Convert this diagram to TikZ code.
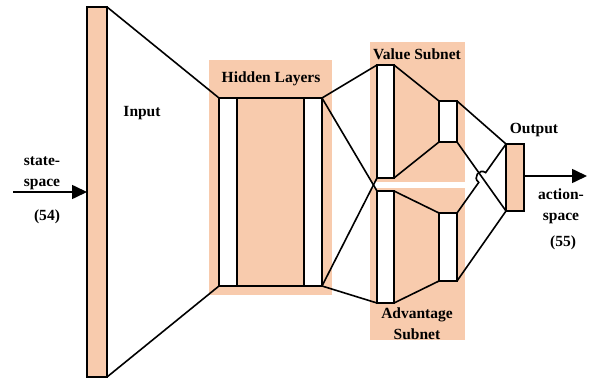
\documentclass[tikz,border=0pt]{standalone}
\usepackage{fontspec}
\setmainfont{Liberation Serif}
\usetikzlibrary{arrows.meta,calc,intersections}
\definecolor{peach}{HTML}{F8CBAD}
\begin{document}
\begin{tikzpicture}[x=1pt,y=-1pt,
  bar/.style={draw,line width=1.6pt,rectangle,inner sep=0pt,outer sep=0pt,fill=white},
  obar/.style={bar,fill=peach},
  conn/.style={line width=1.6pt},
  lab/.style={font=\fontsize{15.5}{21}\selectfont\bfseries,inner sep=0pt,align=center},
  bg/.style={fill=peach,draw=none},
  arr/.style={line width=1.6pt,-{Triangle[length=15pt,width=14pt]}}]
\useasboundingbox (0,0) rectangle (599,382);
% backgrounds
\fill[bg] (209,60) rectangle (332,295);
\fill[bg] (370,42) rectangle (465,182);
\fill[bg] (370,188) rectangle (465,340);
% bars
\node[obar,minimum width=20pt,minimum height=370pt] (in) at (97,192) {};
\node[bar,minimum width=18pt,minimum height=188pt] (h1) at (228,192) {};
\node[bar,minimum width=18pt,minimum height=188pt] (h2) at (313,192) {};
\node[bar,minimum width=17pt,minimum height=113pt] (v1) at (385.5,121.5) {};
\node[bar,minimum width=17pt,minimum height=112pt] (a1) at (385.5,247) {};
\node[bar,minimum width=18pt,minimum height=41pt] (v2) at (448,121.5) {};
\node[bar,minimum width=18pt,minimum height=68pt] (a2) at (448,247) {};
\node[obar,minimum width=18pt,minimum height=67pt] (out) at (515,177.5) {};
% connectors
\draw[conn] (in.north east) -- (h1.north west);
\draw[conn] (in.south east) -- (h1.south west);
\draw[conn] (h1.north east) -- (h2.north west);
\draw[conn] (h1.south east) -- (h2.south west);
\draw[conn] (h2.north east) -- (v1.north west);
\draw[conn] (h2.north east) -- (a1.north west);
\draw[conn] (h2.south east) -- (v1.south west);
\draw[conn] (h2.south east) -- (a1.south west);
\draw[conn] (v1.north east) -- (v2.north west);
\draw[conn] (v1.south east) -- (v2.south west);
\draw[conn] (a1.north east) -- (a2.north west);
\draw[conn] (a1.south east) -- (a2.south west);
\draw[conn] (v2.north east) -- (out.north west);
\draw[conn,name path=down] (v2.south east) -- (out.south west);
\draw[conn] (a2.south east) -- (out.south west);
\path[name path=up] (a2.north east) -- (out.north west);
\coordinate[name intersections={of=down and up,by=X}];
\coordinate (p1) at ($(X)!6pt!(a2.north east)$);
\coordinate (p2) at ($(X)!6pt!(out.north west)$);
\draw[conn] (a2.north east) -- (p1)
  .. controls ($(p1)+(-6.5,-4.6)$) and ($(p2)+(-6.5,-4.6)$) .. (p2) -- (out.north west);
% arrows
\coordinate (ss) at (13,192);
\coordinate (as) at (587,176);
\draw[arr] (ss) -- (in.west);
\draw[arr] (out.east |- as) -- (as);
% labels
\node[lab] (tin) at (142,113) {Input};
\node[lab] (thl) at (271,79) {Hidden Layers};
\node[lab] (tvs) at (417,54) {Value Subnet};
\node[lab] (tad) at (417,324) {Advantage\\Subnet};
\node[lab] (tout) at (534,130) {Output};
\node[lab] (tss) at (42,173) {state-\\space};
\node[lab] (t54) at (47,217) {(54)};
\node[lab] (tas) at (561,206) {action-\\space};
\node[lab] (t55) at (563,243) {(55)};
\end{tikzpicture}
\end{document}
